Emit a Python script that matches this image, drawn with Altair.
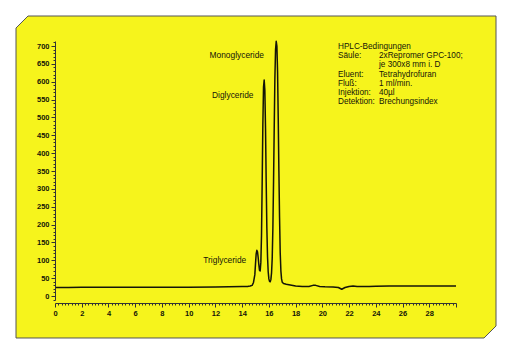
import altair as alt
import pandas as pd

# Chromatogram (retention time in min, detector signal)
time_min = [0, 1, 2, 4, 6, 8, 10, 12, 13, 14, 14.4, 14.6, 14.75, 14.85, 14.95, 15.0, 15.05, 15.1,
            15.15, 15.2, 15.25, 15.3, 15.35, 15.4, 15.45, 15.5, 15.55, 15.6, 15.65, 15.7, 15.75,
            15.8, 15.85, 15.9, 15.95, 16.0, 16.05, 16.1, 16.15, 16.2, 16.25, 16.3, 16.35, 16.4,
            16.45, 16.5, 16.55, 16.6, 16.65, 16.7, 16.75, 16.8, 16.85, 16.9, 16.95, 17.0, 17.1,
            17.3, 17.6, 18.0, 18.5, 19.0, 19.3, 19.5, 19.8, 20.2, 20.8, 21.2, 21.45, 21.7, 22.0,
            22.3, 22.6, 23.0, 23.5, 24, 25, 26, 27, 28, 29, 30]
signal = [24, 24, 24.5, 24.5, 25, 25, 25, 25.5, 26, 26.5, 27, 28, 30, 38, 60, 90, 118, 128,
          124, 108, 88, 72, 70, 95, 170, 320, 480, 585, 605, 575, 470,
          320, 190, 110, 68, 48, 41, 40, 46, 65, 105, 190, 320, 470,
          610, 690, 713, 700, 630, 500, 350, 220, 120, 70, 48, 39, 35,
          33, 31, 28, 27, 27, 30, 30, 27, 26, 25.5, 24, 19, 24, 27,
          28.5, 27, 26.5, 27, 27.5, 28, 28, 28.5, 28.5, 28.5, 28.5]

# Peak labels (anchor in data coordinates)
peak_names = ["Monoglyceride", "Diglyceride", "Triglyceride"]
peak_label_t = [13.6, 13.3, 12.7]
peak_label_v = [675, 563, 101]

# Conditions box
cond_title = "HPLC-Bedingungen"
cond_keys_a = ["Säule:"]
cond_keys_b = ["Eluent:", "Fluß:", "Injektion:", "Detektion:"]
cond_vals = ["2xRepromer GPC-100;", "je 300x8 mm i. D", "Tetrahydrofuran", "1 ml/min.", "40µl",
             "Brechungsindex"]

x_ticks = [i * 0.25 for i in range(121)]
y_ticks = list(range(-10, 711, 10))

YELLOW = "#f6f41c"
INK = "#141408"
FONT = "Liberation Sans"

W, H = 401, 259
LH = 9.2  # line height of the conditions box

df = pd.DataFrame({"t": time_min, "v": signal})
labels_df = pd.DataFrame({"name": peak_names, "t": peak_label_t, "v": peak_label_v})
one = pd.DataFrame({"a": [0]})

# yellow panel with chamfered corners (custom symbol path)
panel_path = "M -1 -0.6208 L -0.95 -0.6708 L 1 -0.6708 L 1 0.6208 L 0.95 0.6708 L -1 0.6708 Z"
panel = alt.Chart(one).mark_point(
    shape=panel_path, size=230400, filled=True, fill=YELLOW, fillOpacity=1,
    stroke="#555555", strokeWidth=1, opacity=1
).encode(x=alt.value(201), y=alt.value(136))

xscale = alt.Scale(domain=[0, 30], nice=False, zero=False)
yscale = alt.Scale(domain=[-11, 714], nice=False, zero=False)

xaxis = alt.Axis(
    values=x_ticks, tickCount=500, title=None, grid=False, offset=3, zindex=2,
    labelExpr="(datum.value % 2 === 0 && datum.value <= 28) ? format(datum.value, 'd') : ''",
    tickSize={"condition": {"test": "datum.value % 2 === 0", "value": 4}, "value": 2},
    labelOverlap=False, labelFlush=False, labelBound=False,
    labelFont=FONT, labelFontSize=7.5, labelFontWeight="bold", labelColor=INK,
    labelPadding=2, domainColor="#333333", tickColor="#333333", domainWidth=1, tickWidth=1,
)
yaxis = alt.Axis(
    values=y_ticks, tickCount=500, title=None, grid=False, zindex=2,
    labelExpr="(datum.value % 50 === 0 && datum.value >= 0) ? format(datum.value, 'd') : ''",
    tickSize={"condition": {"test": "datum.value % 50 === 0", "value": 4}, "value": 2},
    labelOverlap=False, labelFlush=False, labelBound=False,
    labelFont=FONT, labelFontSize=7.5, labelFontWeight="bold", labelColor=INK,
    labelPadding=2, domainColor="#333333", tickColor="#333333", domainWidth=1, tickWidth=1,
)

line = alt.Chart(df).mark_line(color=INK, strokeWidth=1.5, strokeJoin="round").encode(
    x=alt.X("t:Q", scale=xscale, axis=xaxis),
    y=alt.Y("v:Q", scale=yscale, axis=yaxis),
)

peak_text = alt.Chart(labels_df).mark_text(
    font=FONT, fontSize=8.4, color=INK, align="center", baseline="middle"
).encode(
    x=alt.X("t:Q", scale=xscale),
    y=alt.Y("v:Q", scale=yscale),
    text="name:N",
)


def block(lines, px, py):
    return alt.Chart(pd.DataFrame({"s": ["\n".join(lines)]})).mark_text(
        font=FONT, fontSize=8.2, color=INK, align="left", baseline="alphabetic",
        lineBreak="\n", lineHeight=LH
    ).encode(x=alt.value(px), y=alt.value(py), text="s:N")


top = 8
box = [
    block([cond_title] + cond_keys_a, 283, top),
    block(cond_keys_b, 283, top + 3 * LH),
    block(cond_vals, 324, top + LH),
]

chart = alt.layer(panel, line, peak_text, *box).properties(
    width=W, height=H,
    autosize=alt.AutoSizeParams(type="none"),
    padding={"left": 55, "top": 41, "right": 513 - 55 - W, "bottom": 356 - 41 - H},
).configure(background="white").configure_view(stroke=None)

chart.save("out.html", embed_options={"renderer": "svg", "actions": False})
